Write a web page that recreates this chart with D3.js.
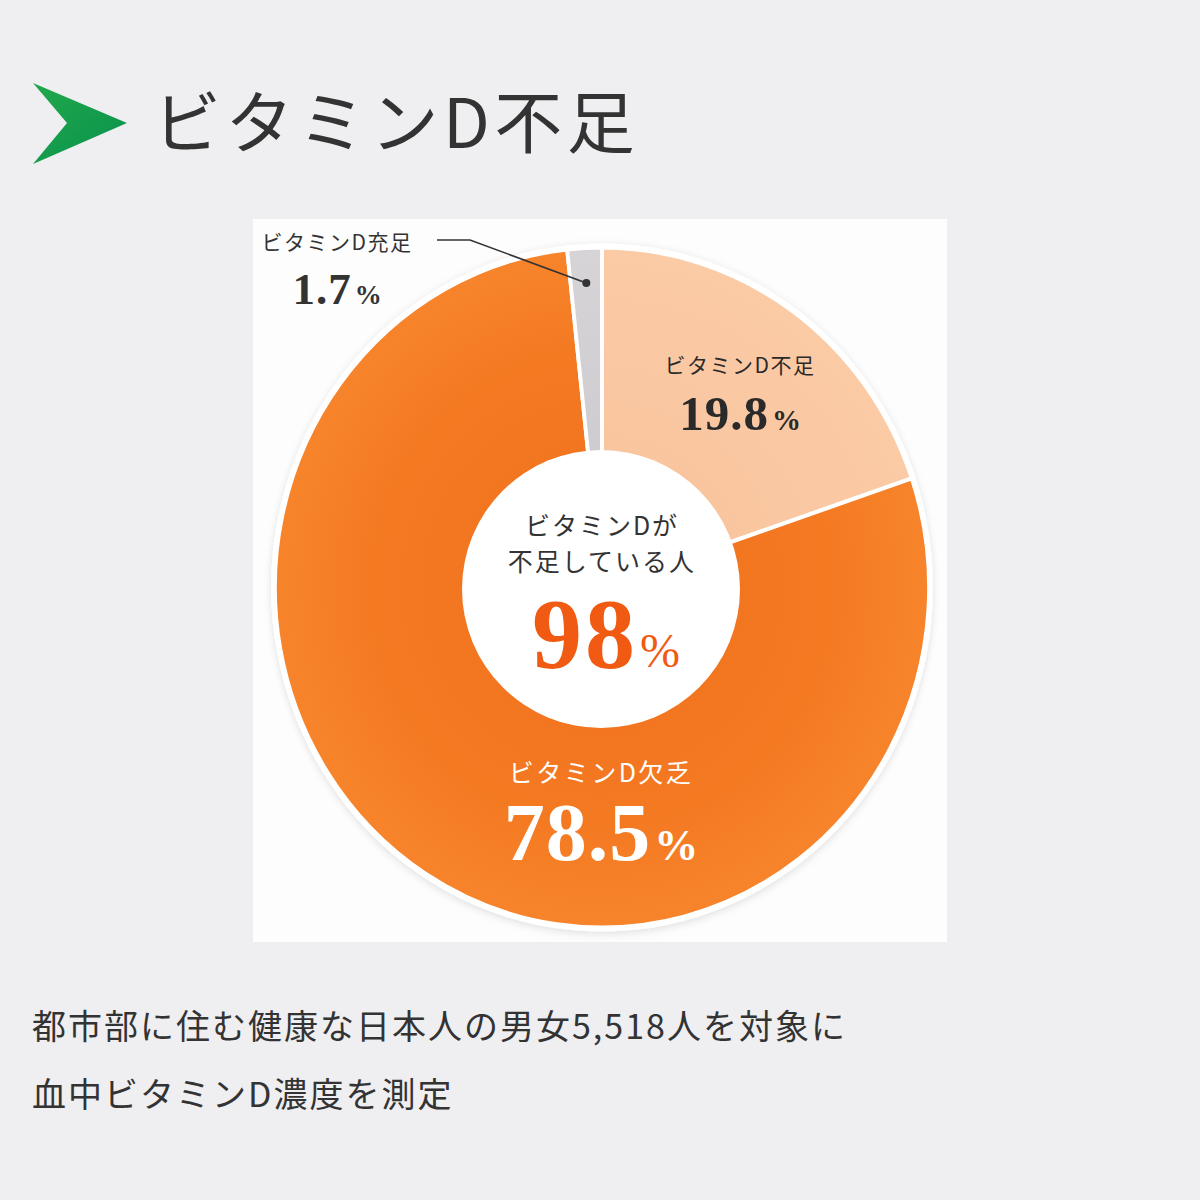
<!DOCTYPE html>
<html>
<head>
<meta charset="utf-8">
<script src="https://cdn.jsdelivr.net/npm/d3@7"></script>
<style>
  html, body { margin: 0; padding: 0; background: #efeef0; }
  svg { display: block; }
</style>
</head>
<body>
<svg id="chart" width="1200" height="1200"></svg>
<script>
// ---- data ----
const titleText = "ビタミンD不足";
const categories = ["ビタミンD不足", "ビタミンD欠乏", "ビタミンD充足"];
const values = [19.8, 78.5, 1.7];
const valueLabels = ["19.8", "78.5", "1.7"];
const centerLines = ["ビタミンDが", "不足している人"];
const centerValue = "98";
const noteLines = ["都市部に住む健康な日本人の男女5,518人を対象に", "血中ビタミンD濃度を測定"];

const JP = "'Noto Sans CJK JP', 'Noto Sans', sans-serif";
const SERIF = "'Liberation Serif', 'DejaVu Serif', serif";

const svg = d3.select("#chart");
const defs = svg.append("defs");

// background
svg.append("rect").attr("width", 1200).attr("height", 1200).attr("fill", "#efeef0");

// title arrow
const arrowGrad = defs.append("linearGradient").attr("id", "arrowGrad")
  .attr("x1", "0").attr("y1", "0").attr("x2", "1").attr("y2", "1");
arrowGrad.append("stop").attr("offset", "0%").attr("stop-color", "#22a84a");
arrowGrad.append("stop").attr("offset", "100%").attr("stop-color", "#08914f");
const arrowPts = [[33, 83], [127, 123], [33, 164], [67, 123]];
svg.append("path").attr("d", d3.line()(arrowPts) + "Z").attr("fill", "url(#arrowGrad)");

svg.append("text").attr("x", 153).attr("y", 148)
  .attr("font-family", JP).attr("font-size", 68).attr("font-weight", 400)
  .attr("letter-spacing", 4.5).attr("fill", "#333333").text(titleText);

// panel
svg.append("rect").attr("x", 253).attr("y", 219).attr("width", 694).attr("height", 723)
  .attr("fill", "#fdfdfd");

// gradients for slices
const gOr = defs.append("radialGradient").attr("id", "gOrange")
  .attr("gradientUnits", "userSpaceOnUse").attr("cx", 0).attr("cy", 0).attr("r", 340);
gOr.append("stop").attr("offset", "0%").attr("stop-color", "#f06e1c");
gOr.append("stop").attr("offset", "70%").attr("stop-color", "#f47a22");
gOr.append("stop").attr("offset", "100%").attr("stop-color", "#f7842b");
const gPe = defs.append("radialGradient").attr("id", "gPeach")
  .attr("gradientUnits", "userSpaceOnUse").attr("cx", 0).attr("cy", 0).attr("r", 340);
gPe.append("stop").attr("offset", "0%").attr("stop-color", "#f7c19a");
gPe.append("stop").attr("offset", "100%").attr("stop-color", "#fbcba6");
const gGr = defs.append("radialGradient").attr("id", "gGray")
  .attr("gradientUnits", "userSpaceOnUse").attr("cx", 0).attr("cy", 0).attr("r", 340);
gGr.append("stop").attr("offset", "0%").attr("stop-color", "#c9c7cb");
gGr.append("stop").attr("offset", "100%").attr("stop-color", "#d6d4d7");
const fills = ["url(#gPeach)", "url(#gOrange)", "url(#gGray)"];

const shadow = defs.append("filter").attr("id", "shadow")
  .attr("x", "-10%").attr("y", "-10%").attr("width", "120%").attr("height", "120%");
shadow.append("feDropShadow").attr("dx", 0).attr("dy", 2).attr("stdDeviation", 4)
  .attr("flood-color", "#000").attr("flood-opacity", 0.12);

// pie
const cx = 602, cy = 587.5, R = 340;
const pieG = svg.append("g").attr("transform", `translate(${cx},${cy}) scale(0.962,1)`);
const pie = d3.pie().sort(null).value(d => d)(values);
const arc = d3.arc().innerRadius(0).outerRadius(R);

pieG.append("circle").attr("r", R + 4).attr("fill", "#ffffff").attr("filter", "url(#shadow)");
pieG.selectAll("path.slice").data(pie).join("path").attr("class", "slice")
  .attr("d", arc)
  .attr("fill", (d, i) => fills[i])
  .attr("stroke", "#ffffff").attr("stroke-width", 4).attr("stroke-linejoin", "round");

// inner circle
svg.append("circle").attr("cx", 601).attr("cy", 589).attr("r", 139).attr("fill", "#ffffff");

// center text
svg.selectAll("text.cline").data(centerLines).join("text").attr("class", "cline")
  .attr("x", 602).attr("y", (d, i) => 535 + i * 36)
  .attr("text-anchor", "middle").attr("font-family", JP).attr("font-size", 25)
  .attr("letter-spacing", 2).attr("fill", "#333333").text(d => d);
const cv = svg.append("text").attr("x", 606).attr("y", 667).attr("text-anchor", "middle")
  .attr("font-family", SERIF).attr("font-weight", "bold").attr("fill", "#f15a12");
cv.append("tspan").attr("font-size", 100).attr("letter-spacing", 3).text(centerValue);
cv.append("tspan").attr("font-size", 48).attr("dx", 2).attr("font-weight", "normal").text("%");

// slice labels
function sliceLabel(name, val, x, yName, yVal, nameSize, valSize, pctSize, color, ls) {
  svg.append("text").attr("x", x).attr("y", yName).attr("text-anchor", "middle")
    .attr("font-family", JP).attr("font-size", nameSize).attr("letter-spacing", ls)
    .attr("fill", color).text(name);
  const t = svg.append("text").attr("x", x).attr("y", yVal).attr("text-anchor", "middle")
    .attr("font-family", SERIF).attr("font-weight", "bold").attr("fill", color);
  t.append("tspan").attr("font-size", valSize).attr("letter-spacing", 1).text(val);
  t.append("tspan").attr("font-size", pctSize).attr("dx", 3).text("%");
}
sliceLabel(categories[0], valueLabels[0], 740, 373, 430, 21, 49, 29, "#2a2a2a", 1.5);
sliceLabel(categories[1], valueLabels[1], 601, 782, 860, 25, 82, 44, "#ffffff", 2.5);
sliceLabel(categories[2], valueLabels[2], 337, 250, 304, 21, 45, 27, "#333333", 1.5);

// leader line for small slice
const gd = pie[2];
const midA = (gd.startAngle + gd.endAngle) / 2;
const dotR = 305;
const dot = [cx + 0.962 * dotR * Math.sin(midA), cy - dotR * Math.cos(midA)];
svg.append("path").attr("d", d3.line()([[437, 240], [470, 240], dot]))
  .attr("fill", "none").attr("stroke", "#333333").attr("stroke-width", 1.6);
svg.append("circle").attr("cx", dot[0]).attr("cy", dot[1]).attr("r", 4).attr("fill", "#333333");

// note
svg.selectAll("text.note").data(noteLines).join("text").attr("class", "note")
  .attr("x", 32).attr("y", (d, i) => 1039 + i * 68)
  .attr("font-family", JP).attr("font-size", 34).attr("letter-spacing", 2)
  .attr("fill", "#333333").text(d => d);
</script>
</body>
</html>
